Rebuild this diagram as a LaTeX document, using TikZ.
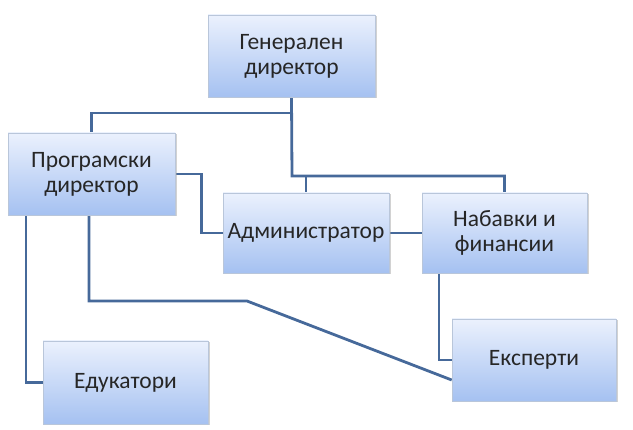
\documentclass[tikz,border=0pt]{standalone}
\usepackage{fontspec}
\setmainfont{Carlito}
\usetikzlibrary{shadows,backgrounds}
\definecolor{boxtop}{HTML}{EBF1FD}
\definecolor{boxbot}{HTML}{A5C1F1}
\definecolor{boxline}{HTML}{B9C6DA}
\definecolor{connc}{HTML}{46699A}
\tikzset{
  orgbox/.style={rectangle, draw=boxline, line width=0.6pt, top color=boxtop, bottom color=boxbot,
    align=center, font=\fontsize{23.5}{25}\selectfont, text=black!85,
    drop shadow={shadow xshift=1.5pt, shadow yshift=-1.5pt, fill=black!35, opacity=0.5}},
  conn/.style={draw=connc, line width=2.8pt, line join=miter}
}
\begin{document}
\begin{tikzpicture}[x=1pt,y=-1pt]
\useasboundingbox (0,0) rectangle (633,430);
\coordinate (j1) at (292,113);
\coordinate (j2) at (292,176);
\coordinate (pe) at (89,301);
\coordinate (pm) at (247,301);
\node[orgbox, minimum width=167pt, minimum height=82pt] (gen) at (291.5,56) {Генерален\\директор};
\node[orgbox, minimum width=167pt, minimum height=82pt] (prog) at (91.5,174) {Програмски\\директор};
\node[orgbox, minimum width=166pt, minimum height=80pt] (admin) at (306,233) {Администратор};
\node[orgbox, minimum width=165pt, minimum height=80pt] (nab) at (504.5,233) {Набавки и\\финансии};
\node[orgbox, minimum width=165pt, minimum height=83pt] (edu) at (125.5,382.5) {Едукатори};
\node[orgbox, minimum width=164pt, minimum height=82pt] (eks) at (534,360) {Експерти};
\begin{scope}[on background layer]
\draw[conn] (gen.south) -- (j2) -| (nab.north);
\draw[conn] (j1) -| (prog.north);
\draw[conn] (admin.north |- j2) -- (admin.north);
\draw[conn] (prog.east) -- ++(26,0) |- (admin.west);
\draw[conn] (admin.east) -- (nab.west);
\draw[conn] ([xshift=-65.5pt]nab.south) |- (eks.west);
\draw[conn] ([xshift=-65.5pt]prog.south) |- (edu.west);
\draw[conn] ([xshift=-2.5pt]prog.south) -- (pe) -- (pm) -- ([yshift=-20pt]eks.west);
\end{scope}
\end{tikzpicture}
\end{document}
